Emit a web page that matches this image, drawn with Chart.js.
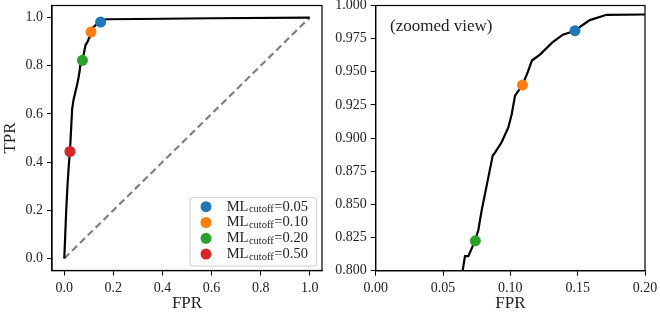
<!DOCTYPE html>
<html>
<head>
<meta charset="utf-8">
<script src="https://cdn.jsdelivr.net/npm/chart.js@4/dist/chart.umd.min.js"></script>
<style>
  html, body { margin: 0; padding: 0; background: #fff; }
  #wrap { position: relative; width: 660px; height: 314px; }
  canvas { position: absolute; top: 0; }
</style>
</head>
<body>
<div id="wrap">
  <canvas id="rocFull" width="330" height="314" style="left:0"></canvas>
  <canvas id="rocZoom" width="330" height="314" style="left:330px"></canvas>
</div>
<script>
// ROC curve
const fpr = [0, 0.004, 0.008, 0.013, 0.018, 0.023, 0.027, 0.032, 0.038, 0.046, 0.052, 0.058, 0.063,
  0.0646, 0.0663, 0.0688, 0.0737, 0.0762, 0.0787, 0.0869, 0.0886, 0.0936, 0.0985, 0.101, 0.1035,
  0.109, 0.113, 0.116, 0.122, 0.131, 0.139, 0.148, 0.154, 0.159, 0.1715, 0.3, 0.6, 1.0]
const tpr = [0, 0.1, 0.2, 0.3, 0.38, 0.444, 0.52, 0.62, 0.66, 0.694, 0.72, 0.75, 0.78,
  0.8, 0.811, 0.811, 0.8225, 0.8305, 0.8455, 0.8868, 0.889, 0.897, 0.908, 0.918, 0.932,
  0.94, 0.95, 0.9585, 0.963, 0.972, 0.978, 0.981, 0.9855, 0.989, 0.993, 0.994, 0.997, 1.0]

// operating points for each ML cutoff
const cutoffs = ['0.05', '0.10', '0.20', '0.50']
const cutoffFpr = [0.148, 0.109, 0.074, 0.023]
const cutoffTpr = [0.981, 0.94, 0.8225, 0.444]
const cutoffColors = ['#1f77b4', '#ff7f0e', '#2ca02c', '#d62728']

// tick labels
const fullTicks = ['0.0', '0.2', '0.4', '0.6', '0.8', '1.0']
const zoomXTicks = ['0.00', '0.05', '0.10', '0.15', '0.20']
const zoomYTicks = ['0.800', '0.825', '0.850', '0.875', '0.900', '0.925', '0.950', '0.975', '1.000']

const FONT = "'Liberation Serif', 'DejaVu Serif', serif"

function curveData() {
  return fpr.map((x, i) => ({ x: x, y: tpr[i] }))
}

function markerSets() {
  return cutoffs.map((c, i) => ({
    label: 'ML_cutoff=' + c,
    data: [{ x: cutoffFpr[i], y: cutoffTpr[i] }],
    pointRadius: 5.5,
    pointHoverRadius: 5.5,
    pointBackgroundColor: cutoffColors[i],
    pointBorderWidth: 0,
    showLine: false,
    order: 0
  }))
}

function axis(ticks, min, max, opts) {
  return Object.assign({
    type: 'linear',
    min: min,
    max: max,
    grid: { drawOnChartArea: false, drawTicks: true, tickLength: 5, color: '#000', tickWidth: 1 },
    border: { display: true, color: '#000', width: 1.2 },
    ticks: {
      color: '#222',
      padding: 4,
      maxRotation: 0,
      font: { family: FONT, size: 14 },
      callback: function (v) {
        const t = ticks.find((s) => Math.abs(parseFloat(s) - v) < 1e-9)
        return t === undefined ? '' : t
      }
    },
    afterBuildTicks: function (scale) {
      scale.ticks = ticks.map((s) => ({ value: parseFloat(s) }))
    }
  }, opts)
}

function fixSize(size, horizontal) {
  return function (scale) {
    if (horizontal) scale.height = size
    else scale.width = size
    scale.paddingTop = 0
    scale.paddingBottom = 0
    scale.paddingLeft = 0
    scale.paddingRight = 0
  }
}

const frame = {
  id: 'frame',
  afterDatasetsDraw(chart) {
    const a = chart.chartArea
    const ctx = chart.ctx
    ctx.save()
    ctx.strokeStyle = '#000'
    ctx.lineWidth = 1.2
    ctx.strokeRect(a.left, a.top, a.right - a.left, a.bottom - a.top)
    ctx.restore()
  }
}

// legend with the subscript, drawn by hand
const cutoffLegend = {
  id: 'cutoffLegend',
  afterDraw(chart) {
    const a = chart.chartArea
    const ctx = chart.ctx
    const w = 126.7, h = 68.3
    const left = a.right - 5.3 - w
    const top = a.bottom - 4.5 - h
    ctx.save()
    ctx.fillStyle = 'rgba(255,255,255,0.8)'
    ctx.strokeStyle = '#cccccc'
    ctx.lineWidth = 1
    ctx.beginPath()
    ctx.roundRect(left, top, w, h, 3)
    ctx.fill()
    ctx.stroke()
    cutoffs.forEach((c, i) => {
      const y = top + 9 + i * 15.8
      ctx.fillStyle = cutoffColors[i]
      ctx.beginPath()
      ctx.arc(left + 16, y, 5.5, 0, Math.PI * 2)
      ctx.fill()
      ctx.fillStyle = '#222'
      ctx.textBaseline = 'middle'
      let x = left + 36.7
      ctx.font = '14.5px ' + FONT
      ctx.fillText('ML', x, y)
      x += ctx.measureText('ML').width + 0.5
      ctx.font = '10.5px ' + FONT
      ctx.fillText('cutoff', x, y + 3)
      x += ctx.measureText('cutoff').width + 0.5
      ctx.font = '14.5px ' + FONT
      ctx.fillText('=' + c, x, y)
    })
    ctx.restore()
  }
}

const zoomNote = {
  id: 'zoomNote',
  afterDraw(chart) {
    const a = chart.chartArea
    const ctx = chart.ctx
    ctx.save()
    ctx.fillStyle = '#222'
    ctx.font = '17px ' + FONT
    ctx.textBaseline = 'middle'
    ctx.fillText('(zoomed view)', a.left + 14.3, a.top + 21)
    ctx.restore()
  }
}

const base = {
  responsive: false,
  animation: false,
  events: [],
  plugins: { legend: { display: false }, tooltip: { enabled: false } }
}

const titleFont = { family: FONT, size: 17 }

new Chart(document.getElementById('rocFull'), {
  type: 'scatter',
  data: {
    datasets: markerSets().concat([
      {
        label: 'ROC',
        data: curveData(),
        showLine: true,
        borderColor: '#000',
        borderWidth: 2.2,
        pointRadius: 0,
        order: 1
      },
      {
        label: 'chance',
        data: [{ x: 0, y: 0 }, { x: 1, y: 1 }],
        showLine: true,
        borderColor: '#808080',
        borderWidth: 2.2,
        borderDash: [7, 4],
        pointRadius: 0,
        order: 2
      }
    ])
  },
  options: Object.assign({}, base, {
    layout: { padding: { top: 4, right: 8, left: 0, bottom: 0 } },
    scales: {
      x: axis(fullTicks, -0.05, 1.05, {
        title: { display: true, text: 'FPR', color: '#222', padding: 0, font: titleFont },
        afterFit: fixSize(43.5, true)
      }),
      y: axis(fullTicks, -0.05, 1.05, {
        title: { display: true, text: 'TPR', color: '#222', padding: 0, font: titleFont },
        afterFit: fixSize(52, false)
      })
    }
  }),
  plugins: [frame, cutoffLegend]
})

new Chart(document.getElementById('rocZoom'), {
  type: 'scatter',
  data: {
    datasets: markerSets().concat([
      {
        label: 'ROC',
        data: curveData(),
        showLine: true,
        borderColor: '#000',
        borderWidth: 2.2,
        pointRadius: 0,
        order: 1
      }
    ])
  },
  options: Object.assign({}, base, {
    layout: { padding: { top: 4, right: 15, left: 0, bottom: 0 } },
    scales: {
      x: axis(zoomXTicks, 0, 0.2, {
        title: { display: true, text: 'FPR', color: '#222', padding: 0, font: titleFont },
        afterFit: fixSize(43.3, true)
      }),
      y: axis(zoomYTicks, 0.8, 1.0, {
        afterFit: fixSize(45.7, false)
      })
    }
  }),
  plugins: [frame, zoomNote]
})
</script>
</body>
</html>
